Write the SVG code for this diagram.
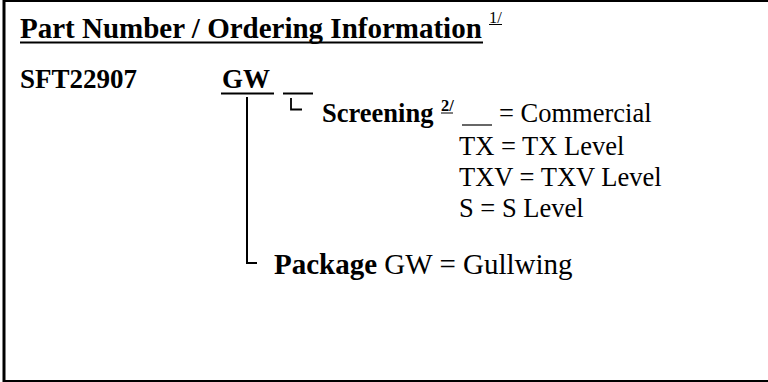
<svg xmlns="http://www.w3.org/2000/svg" width="768" height="382" viewBox="0 0 768 382">
<style>
.t{font-family:"Liberation Serif","Times New Roman",serif;fill:#000}
.b{font-weight:bold}
.ln{stroke:#000;fill:none}
</style>
<rect x="0" y="0" width="768" height="382" fill="#fff"/>
<g id="frame">
<line class="ln" x1="3" y1="1" x2="768" y2="1" stroke-width="2"/>
<line class="ln" x1="4" y1="0" x2="4" y2="382" stroke-width="3"/>
<line class="ln" x1="3" y1="381" x2="768" y2="381" stroke-width="2"/>
</g>
<g id="title">
<text class="t b" x="20" y="38" font-size="29">Part Number / Ordering Information</text>
<line class="ln" x1="20" y1="42.5" x2="483" y2="42.5" stroke-width="2"/>
<text class="t" x="489" y="23" font-size="16.5">1/</text>
<line class="ln" x1="489" y1="24.5" x2="502" y2="24.5" stroke-width="1"/>
</g>
<g id="part">
<text class="t b" x="20" y="88" font-size="27">SFT22907</text>
</g>
<g id="gw">
<text class="t b" x="222" y="88" font-size="27">GW</text>
<line class="ln" x1="221" y1="93.5" x2="274" y2="93.5" stroke-width="2"/>
</g>
<g id="blank">
<line class="ln" x1="283" y1="93.5" x2="313" y2="93.5" stroke-width="2"/>
</g>
<g id="screening">
<text class="t b" x="322" y="122" font-size="26.5">Screening</text>
<text class="t b" x="441" y="111" font-size="16.5">2/</text>
<line class="ln" x1="441" y1="113" x2="453" y2="113" stroke-width="1"/>
<line class="ln" x1="462" y1="125" x2="492" y2="125" stroke-width="1.2"/>
<text class="t" x="499" y="122" font-size="26.5">= Commercial</text>
<text class="t" x="459" y="154.5" font-size="26.5">TX = TX Level</text>
<text class="t" x="459" y="185.5" font-size="26.5">TXV = TXV Level</text>
<text class="t" x="459" y="216.5" font-size="26.5">S = S Level</text>
</g>
<g id="package">
<text class="t" x="274" y="274" font-size="29"><tspan font-weight="bold">Package</tspan> GW = Gullwing</text>
</g>
<g id="connectors">
<polyline class="ln" points="291,98 291,109.5 302,109.5" stroke-width="1.8"/>
<polyline class="ln" points="247,97 247,263 257,263" stroke-width="2"/>
</g>
</svg>
